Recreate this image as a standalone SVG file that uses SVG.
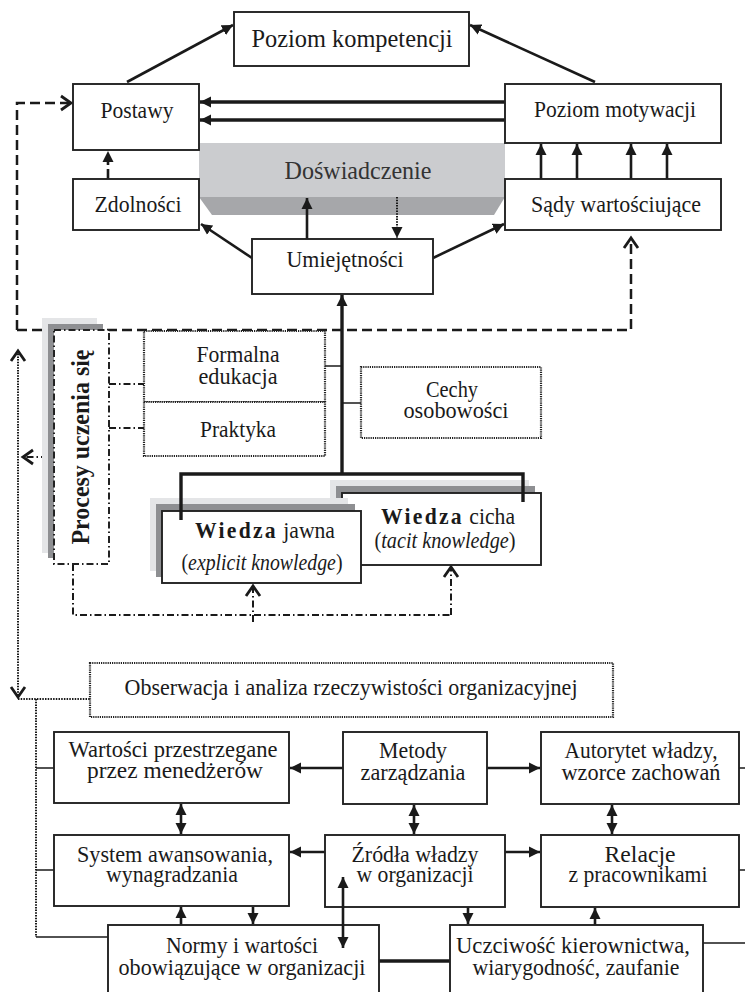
<svg xmlns="http://www.w3.org/2000/svg" width="745" height="992" viewBox="0 0 745 992">
<defs>
<style>
text{font-family:"Liberation Serif","Times New Roman",serif;font-size:24px;fill:#1a1a1a;text-anchor:middle}
.s{font-size:23px}
.box{fill:#fff;stroke:#222;stroke-width:1.9}
.dotbox{fill:#fff;stroke:#222;stroke-width:2.2;stroke-dasharray:1.2 1}
.ln{fill:none;stroke:#1a1a1a;stroke-width:2.6}
.thk{fill:none;stroke:#1a1a1a;stroke-width:3.4}
.thin{fill:none;stroke:#1a1a1a;stroke-width:1.5}
.dash{fill:none;stroke:#1a1a1a;stroke-width:2.5;stroke-dasharray:10 5}
.dot{fill:none;stroke:#1a1a1a;stroke-width:2;stroke-dasharray:1.5 1.2}
.dd{fill:none;stroke:#1a1a1a;stroke-width:2;stroke-dasharray:7 3 1.5 3}
.ar{marker-end:url(#ah)}
.ar2{marker-end:url(#ah);marker-start:url(#ah)}
.ch{marker-end:url(#chev)}
.ch2{marker-end:url(#chev);marker-start:url(#chev)}
.b{font-weight:bold}
.i{font-style:italic}
</style>
<marker id="ah" markerUnits="userSpaceOnUse" markerWidth="12" markerHeight="12" refX="11" refY="6" orient="auto-start-reverse"><path d="M0,0.5 L11,6 L0,11.5 z" fill="#1a1a1a"/></marker>
<marker id="chev" markerUnits="userSpaceOnUse" markerWidth="14" markerHeight="16" refX="11" refY="8" orient="auto-start-reverse" overflow="visible"><path d="M1,1 L11,8 L1,15" fill="none" stroke="#1a1a1a" stroke-width="2.8"/></marker>
</defs>

<g id="doswiadczenie">
<rect x="199" y="143" width="306" height="54" fill="#cbcccf"/>
<polygon points="199,197 505,197 494,215 212,215" fill="#a6a7aa"/>
<text x="358" y="179" style="font-size:26px;fill:#333" textLength="147" lengthAdjust="spacingAndGlyphs">Doświadczenie</text>
</g>

<g id="connectors">
<line class="ln ar" x1="127" y1="82" x2="233" y2="25"/>
<line class="ln ar" x1="595" y1="82" x2="470" y2="25"/>
<line class="thk ar" x1="505" y1="102" x2="200" y2="102"/>
<line class="thk ar" x1="505" y1="120" x2="200" y2="120"/>
<line class="ln ar" x1="541" y1="179" x2="541" y2="144"/>
<line class="ln ar" x1="577" y1="179" x2="577" y2="144"/>
<line class="ln ar" x1="631" y1="179" x2="631" y2="144"/>
<line class="ln ar" x1="667" y1="179" x2="667" y2="144"/>
<line class="ln ar" x1="108" y1="179" x2="108" y2="151" style="stroke-dasharray:10 4"/>
<line class="ln ar" x1="307" y1="239" x2="307" y2="198"/>
<line class="dot ar" x1="397" y1="197" x2="397" y2="238"/>
<line class="ln ar" x1="252" y1="258" x2="201" y2="224"/>
<line class="ln ar" x1="433" y1="258" x2="504" y2="224"/>
<line class="thk ar" x1="342" y1="474" x2="342" y2="295"/>
<line class="thin" x1="325" y1="366" x2="342" y2="366"/>
<line class="thin" x1="342" y1="403" x2="361" y2="403"/>
<path class="dash ch" d="M17,330 L17,103 L71,103"/>
<path class="dash ch" d="M17,330 L631,330 L631,238"/>
<line class="dot ch2" x1="18" y1="351" x2="18" y2="697"/>
<path class="dot" d="M18,699 L90,699 M36,699 L36,937"/>
<line class="dd ch" x1="48" y1="457" x2="23" y2="457"/>
<path class="dd" d="M109,384 L144,384 M109,428 L144,428"/>
<path class="dd" d="M73,564 L73,615 L451,615"/>
<line class="dd ch" x1="253" y1="622" x2="253" y2="586"/>
<line class="dd ch" x1="451" y1="615" x2="451" y2="567"/>
<path class="thin" d="M36,768 L54,768 M36,870 L54,870 M36,937 L108,937 M739,768 L745,768 M739,870 L745,870 M703,943 L745,943"/>
<line class="ln ar" x1="343" y1="768" x2="290" y2="768"/>
<line class="ln ar" x1="487" y1="768" x2="540" y2="768"/>
<line class="ln ar2" x1="181" y1="804" x2="181" y2="834"/>
<line class="ln ar2" x1="414" y1="805" x2="414" y2="834"/>
<line class="ln ar2" x1="612" y1="805" x2="612" y2="834"/>
<line class="ln ar" x1="325" y1="852" x2="290" y2="852"/>
<line class="ln ar" x1="505" y1="852" x2="540" y2="852"/>
<line class="ln ar" x1="181" y1="925" x2="181" y2="907"/>
<line class="ln ar" x1="253" y1="907" x2="253" y2="924"/>
<line class="ln ar" x1="468" y1="907" x2="468" y2="924"/>
<line class="ln ar" x1="595" y1="925" x2="595" y2="908"/>
<line class="thk" x1="379" y1="961" x2="450" y2="961"/>
</g>

<g id="poziom-kompetencji">
<rect class="box" x="234" y="12" width="235" height="54"/>
<text x="352" y="47" style="font-size:26px" textLength="201" lengthAdjust="spacingAndGlyphs">Poziom kompetencji</text>
</g>
<g id="postawy">
<rect class="box" x="73" y="84" width="126" height="66"/>
<text x="137" y="118" textLength="73" lengthAdjust="spacingAndGlyphs">Postawy</text>
</g>
<g id="poziom-motywacji">
<rect class="box" x="505" y="84" width="216" height="59"/>
<text x="615" y="117" textLength="162" lengthAdjust="spacingAndGlyphs">Poziom motywacji</text>
</g>
<g id="zdolnosci">
<rect class="box" x="73" y="179" width="126" height="51"/>
<text x="138" y="212" textLength="87" lengthAdjust="spacingAndGlyphs">Zdolności</text>
</g>
<g id="sady">
<rect class="box" x="505" y="179" width="216" height="51"/>
<text x="616" y="212" textLength="170" lengthAdjust="spacingAndGlyphs">Sądy wartościujące</text>
</g>
<g id="umiejetnosci">
<rect class="box" x="252" y="239" width="181" height="55"/>
<text x="345" y="267" textLength="117" lengthAdjust="spacingAndGlyphs">Umiejętności</text>
</g>

<g id="procesy">
<rect x="42" y="318" width="55" height="235" fill="#e4e5e7"/>
<rect x="48" y="324" width="55" height="234" fill="#8e8f92"/>
<rect x="54" y="330" width="55" height="234" fill="#fff" stroke="#222" stroke-width="2" stroke-dasharray="7 3 1.5 3"/>
<text class="b" transform="translate(89,447) rotate(-90)" style="font-size:25px" textLength="195" lengthAdjust="spacingAndGlyphs">Procesy uczenia się</text>
</g>
<g id="formalna">
<rect class="dotbox" x="144" y="331" width="181" height="71"/>
<text x="238" y="362" textLength="83" lengthAdjust="spacingAndGlyphs">Formalna</text>
<text x="238" y="384" textLength="79" lengthAdjust="spacingAndGlyphs">edukacja</text>
</g>
<g id="praktyka">
<rect class="dotbox" x="144" y="402" width="181" height="54"/>
<text x="238" y="437" textLength="76" lengthAdjust="spacingAndGlyphs">Praktyka</text>
</g>
<g id="cechy">
<rect class="dotbox" x="361" y="367" width="180" height="71"/>
<text x="452" y="397" textLength="52" lengthAdjust="spacingAndGlyphs">Cechy</text>
<text x="456" y="418" textLength="105" lengthAdjust="spacingAndGlyphs">osobowości</text>
</g>

<g id="wiedza-cicha">
<rect x="330" y="480" width="199" height="72" fill="#e4e5e7"/>
<rect x="336" y="486" width="199" height="72" fill="#8e8f92"/>
<rect class="box" x="342" y="493" width="199" height="72"/>
<text x="448" y="524" textLength="134" lengthAdjust="spacingAndGlyphs"><tspan class="b" style="letter-spacing:2.5px">Wiedza</tspan> cicha</text>
<text x="445" y="548" textLength="141" lengthAdjust="spacingAndGlyphs">(<tspan class="i">tacit knowledge</tspan>)</text>
</g>
<g id="wiedza-jawna">
<rect x="150" y="498" width="198" height="73" fill="#e4e5e7"/>
<rect x="156" y="504" width="199" height="73" fill="#8e8f92"/>
<rect class="box" x="162" y="511" width="199" height="72"/>
<text x="265" y="538" textLength="140" lengthAdjust="spacingAndGlyphs"><tspan class="b" style="letter-spacing:2.5px">Wiedza</tspan> jawna</text>
<text x="262" y="570" textLength="161" lengthAdjust="spacingAndGlyphs">(<tspan class="i">explicit knowledge</tspan>)</text>
</g>
<g id="wiedza-lines">
<path class="thk" d="M181,520 L181,474 L523,474 L523,502"/>
</g>

<g id="obserwacja">
<rect class="dotbox" x="90" y="663" width="523" height="54"/>
<text class="s" x="351" y="695" textLength="453" lengthAdjust="spacingAndGlyphs">Obserwacja i analiza rzeczywistości organizacyjnej</text>
</g>
<g id="wartosci">
<rect class="box" x="54" y="732" width="235" height="71"/>
<text class="s" x="173" y="757" textLength="209" lengthAdjust="spacingAndGlyphs">Wartości przestrzegane</text>
<text class="s" x="175" y="778" textLength="176" lengthAdjust="spacingAndGlyphs">przez menedżerów</text>
</g>
<g id="metody">
<rect class="box" x="343" y="732" width="144" height="72"/>
<text class="s" x="413" y="758" textLength="68" lengthAdjust="spacingAndGlyphs">Metody</text>
<text class="s" x="413" y="780" textLength="105" lengthAdjust="spacingAndGlyphs">zarządzania</text>
</g>
<g id="autorytet">
<rect class="box" x="541" y="732" width="198" height="72"/>
<text class="s" x="641" y="758" textLength="153" lengthAdjust="spacingAndGlyphs">Autorytet władzy,</text>
<text class="s" x="641" y="780" textLength="159" lengthAdjust="spacingAndGlyphs">wzorce zachowań</text>
</g>
<g id="system">
<rect class="box" x="54" y="835" width="235" height="71"/>
<text class="s" x="175" y="862" textLength="196" lengthAdjust="spacingAndGlyphs">System awansowania,</text>
<text class="s" x="172" y="882" textLength="132" lengthAdjust="spacingAndGlyphs">wynagradzania</text>
</g>
<g id="zrodla">
<rect class="box" x="325" y="835" width="180" height="72"/>
<text class="s" x="415" y="862" textLength="127" lengthAdjust="spacingAndGlyphs">Źródła władzy</text>
<text class="s" x="415" y="882" textLength="117" lengthAdjust="spacingAndGlyphs">w organizacji</text>
</g>
<g id="relacje">
<rect class="box" x="541" y="835" width="198" height="72"/>
<text class="s" x="640" y="862" textLength="71" lengthAdjust="spacingAndGlyphs">Relacje</text>
<text class="s" x="638" y="882" textLength="139" lengthAdjust="spacingAndGlyphs">z pracownikami</text>
</g>
<g id="normy">
<rect class="box" x="108" y="925" width="271" height="80"/>
<text class="s" x="242" y="953" textLength="152" lengthAdjust="spacingAndGlyphs">Normy i wartości</text>
<text class="s" x="242" y="975" textLength="247" lengthAdjust="spacingAndGlyphs">obowiązujące w organizacji</text>
</g>
<g id="uczciwosc">
<rect class="box" x="450" y="925" width="253" height="80"/>
<text class="s" x="573" y="953" textLength="234" lengthAdjust="spacingAndGlyphs">Uczciwość kierownictwa,</text>
<text class="s" x="576" y="975" textLength="207" lengthAdjust="spacingAndGlyphs">wiarygodność, zaufanie</text>
</g>
<g id="zrodla-normy-link">
<line class="ln ar2" x1="343" y1="877" x2="343" y2="948"/>
</g>
</svg>
